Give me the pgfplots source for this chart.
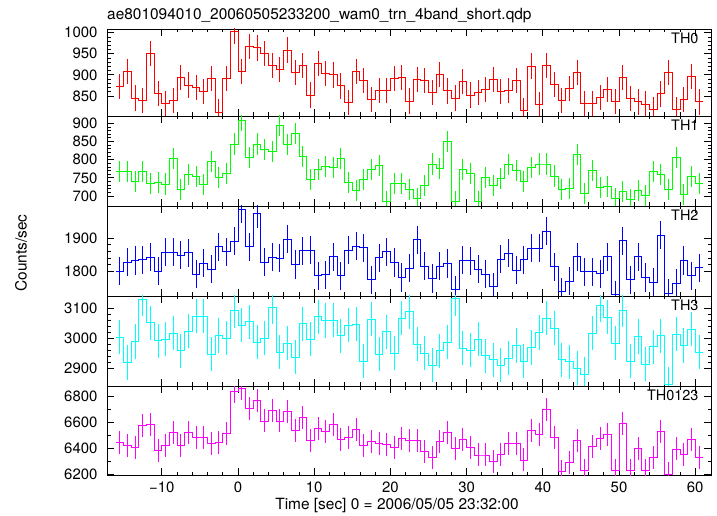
\documentclass[border=0pt]{standalone}
\usepackage{fontspec}
\setmainfont{TeX Gyre Heros}
\usepackage{pgfplots}
\pgfplotsset{compat=1.18}
\usepackage{pgfplotstable}

\definecolor{cr}{RGB}{255,0,0}
\definecolor{cg}{RGB}{0,255,0}
\definecolor{cb}{RGB}{0,0,255}
\definecolor{cc}{RGB}{0,255,255}
\definecolor{cm}{RGB}{255,0,255}

\pgfplotstableread{
t v
-16 872
-15 908
-14 845
-13 840
-12 951
-11 856
-10 833
-9 840
-8 894
-7 876
-6 870
-5 860
-4 892
-3 812
-2 892
-1 1003
0 908
1 967
2 964
3 951
4 923
5 913
6 959
7 906
8 922
9 852
10 927
11 904
12 900
13 874
14 834
15 908
16 886
17 842
18 863
19 863
20 891
21 894
22 838
23 889
24 886
25 859
26 901
27 862
28 845
29 884
30 852
31 858
32 866
33 889
34 860
35 863
36 886
37 815
38 921
39 829
40 923
41 878
42 839
43 868
44 905
45 833
46 832
47 847
48 866
49 837
50 894
51 844
52 836
53 831
54 818
55 855
56 906
57 818
58 842
59 897
60 836
61 836
}\thzero

\pgfplotstableread{
t v
-16 767
-15 767
-14 739
-13 767
-12 735
-11 737
-10 733
-9 804
-8 718
-7 760
-6 753
-5 732
-4 794
-3 750
-2 762
-1 843
0 909
1 805
2 843
3 828
4 823
5 895
6 841
7 871
8 808
9 746
10 772
11 781
12 779
13 803
14 737
15 714
16 746
17 773
18 785
19 685
20 735
21 735
22 717
23 694
24 730
25 788
26 776
27 849
28 685
29 773
30 761
31 685
32 750
33 730
34 749
35 787
36 770
37 739
38 779
39 788
40 788
41 755
42 717
43 721
44 813
45 707
46 770
47 724
48 726
49 694
50 712
51 690
52 714
53 701
54 767
55 758
56 718
57 805
58 705
59 753
60 735
61 735
}\thone

\pgfplotstableread{
t v
-16 1800
-15 1827
-14 1832
-13 1834
-12 1842
-11 1800
-10 1857
-9 1857
-8 1849
-7 1856
-6 1790
-5 1824
-4 1805
-3 1874
-2 1859
-1 1891
0 1989
1 1874
2 1976
3 1827
4 1842
5 1839
6 1897
7 1820
8 1862
9 1864
10 1785
11 1788
12 1844
13 1786
14 1864
15 1876
16 1871
17 1773
18 1841
19 1859
20 1826
21 1780
22 1808
23 1895
24 1815
25 1777
26 1815
27 1823
28 1742
29 1833
30 1831
31 1806
32 1790
33 1752
34 1836
35 1854
36 1803
37 1834
38 1869
39 1869
40 1922
41 1813
42 1737
43 1769
44 1844
45 1798
46 1798
47 1791
48 1844
49 1727
50 1893
51 1773
52 1844
53 1780
54 1765
55 1910
56 1732
57 1762
58 1832
59 1785
60 1810
61 1810
}\thtwo

\pgfplotstableread{
t v
-16 3003
-15 2919
-14 2989
-13 3130
-12 3052
-11 2992
-10 2997
-9 3017
-8 2958
-7 3024
-6 3074
-5 3074
-4 2947
-3 3009
-2 3000
-1 3092
0 3044
1 3055
2 2987
3 3000
4 3103
5 2954
6 2983
7 2937
8 3048
9 2997
10 3072
11 3059
12 3061
13 3008
14 3044
15 3047
16 2924
17 3063
18 2947
19 3022
20 2950
21 3067
22 3089
23 2980
24 2950
25 2911
26 2958
27 2987
28 3132
29 2967
30 2961
31 2997
32 2942
33 2928
34 2911
35 2933
36 2976
37 2924
38 2969
39 3019
40 3067
41 3033
42 2928
43 2922
44 2900
45 2881
46 3017
47 3111
48 3070
49 2983
50 3094
51 2924
52 3006
53 2913
54 2972
55 3008
56 2847
57 3014
58 2976
59 3030
60 2953
61 2953
}\ththree

\pgfplotstableread{
t v
-16 6446
-15 6420
-14 6407
-13 6573
-12 6583
-11 6382
-10 6420
-9 6520
-8 6420
-7 6520
-6 6484
-5 6484
-4 6438
-3 6446
-2 6515
-1 6833
0 6859
1 6706
2 6764
3 6609
4 6688
5 6609
6 6680
7 6540
8 6637
9 6458
10 6553
11 6527
12 6583
13 6471
14 6481
15 6545
16 6425
17 6451
18 6438
19 6430
20 6405
21 6476
22 6458
23 6458
24 6374
25 6331
26 6451
27 6522
28 6400
29 6469
30 6405
31 6349
32 6349
33 6298
34 6356
35 6438
36 6438
37 6311
38 6540
39 6507
40 6698
41 6481
42 6221
43 6293
44 6458
45 6229
46 6413
47 6476
48 6507
49 6229
50 6591
51 6234
52 6400
53 6234
54 6328
55 6527
56 6204
57 6395
58 6356
59 6469
60 6331
61 6331
}\thall

\pgfplotsset{
  panel/.style={
    width=604bp, scale only axis, anchor=south west,
    xmin=-17.19, xmax=62.07,
    xtick={-10,0,...,60}, minor x tick num=4,
    tick align=inside, tick pos=both,
    xticklabels={},
    major tick length=7bp, minor tick length=3.5bp,
    axis line style={line width=0.8bp},
    every tick/.style={black, line width=0.8bp},
    tick label style={font=\fontsize{15}{18}\selectfont},
    /pgf/number format/assume math mode=true,
    /pgf/number format/set thousands separator={},
    yticklabel style={xshift=-6bp},
    xticklabel style={yshift=-3bp},
    clip mode=individual,
  },
}
\tikzset{thlab/.style={anchor=base east, font=\fontsize{14.5}{17}\selectfont, xshift=-9bp, yshift=-14.5bp}}

\begin{document}
\begin{tikzpicture}
\useasboundingbox (-107bp,-41bp) rectangle (610bp,475bp);

\begin{axis}[panel, at={(0bp,359bp)}, height=87bp,
  ymin=802.6, ymax=1008.8, ytick={850,900,950,1000}, minor y tick num=4]
\addplot[const plot mark left, draw=cr, line width=0.9bp, mark=none] table[x=t,y=v]{\thzero};
\addplot[draw=none, mark=none, restrict x to domain=-17:61,
  error bars/.cd, y dir=both, y fixed=30, error mark=none,
  error bar style={draw=cr, line width=0.9bp}] table[x expr=\thisrow{t}+0.5, y=v]{\thzero};
\node[thlab] at (rel axis cs:1,1) {TH0};
\end{axis}

\begin{axis}[panel, at={(0bp,269bp)}, height=90bp,
  ymin=672.5, ymax=920, ytick={700,750,800,850,900}, minor y tick num=4]
\addplot[const plot mark left, draw=cg, line width=0.9bp, mark=none] table[x=t,y=v]{\thone};
\addplot[draw=none, mark=none, restrict x to domain=-17:61,
  error bars/.cd, y dir=both, y fixed=29, error mark=none,
  error bar style={draw=cg, line width=0.9bp}] table[x expr=\thisrow{t}+0.5, y=v]{\thone};
\node[thlab] at (rel axis cs:1,1) {TH1};
\end{axis}

\begin{axis}[panel, at={(0bp,179bp)}, height=90bp,
  ymin=1723.5, ymax=1998.8, ytick={1800,1900}, minor y tick num=4]
\addplot[const plot mark left, draw=cb, line width=0.9bp, mark=none] table[x=t,y=v]{\thtwo};
\addplot[draw=none, mark=none, restrict x to domain=-17:61,
  error bars/.cd, y dir=both, y fixed=43, error mark=none,
  error bar style={draw=cb, line width=0.9bp}] table[x expr=\thisrow{t}+0.5, y=v]{\thtwo};
\node[thlab] at (rel axis cs:1,1) {TH2};
\end{axis}

\begin{axis}[panel, at={(0bp,89bp)}, height=90bp,
  ymin=2841, ymax=3141, ytick={2900,3000,3100}, minor y tick num=4]
\addplot[const plot mark left, draw=cc, line width=0.9bp, mark=none] table[x=t,y=v]{\ththree};
\addplot[draw=none, mark=none, restrict x to domain=-17:61,
  error bars/.cd, y dir=both, y fixed=57, error mark=none,
  error bar style={draw=cc, line width=0.9bp}] table[x expr=\thisrow{t}+0.5, y=v]{\ththree};
\node[thlab] at (rel axis cs:1,1) {TH3};
\end{axis}

\begin{axis}[panel, at={(0bp,0bp)}, height=89bp,
  ymin=6196, ymax=6876.5, ytick={6200,6400,6600,6800}, minor y tick num=1,
  xticklabels={\char"2212 10,0,10,20,30,40,50,60}]
\addplot[const plot mark left, draw=cm, line width=0.9bp, mark=none] table[x=t,y=v]{\thall};
\addplot[draw=none, mark=none, restrict x to domain=-17:61,
  error bars/.cd, y dir=both, y fixed=88, error mark=none,
  error bar style={draw=cm, line width=0.9bp}] table[x expr=\thisrow{t}+0.5, y=v]{\thall};
\node[thlab] at (rel axis cs:1,1) {TH0123};
\end{axis}

\node[anchor=base west, inner sep=0pt, font=\fontsize{15.5}{18}\selectfont] at (0bp,455bp) {ae801094010\_20060505233200\_wam0\_trn\_4band\_short.qdp};
\node[rotate=90, font=\fontsize{15.5}{18}\selectfont] at (-86bp,222bp) {Counts/sec};
\node[anchor=base, font=\fontsize{15.5}{18}\selectfont] at (290bp,-34bp) {Time [sec] 0 = 2006/05/05 23:32:00};
\end{tikzpicture}
\end{document}
